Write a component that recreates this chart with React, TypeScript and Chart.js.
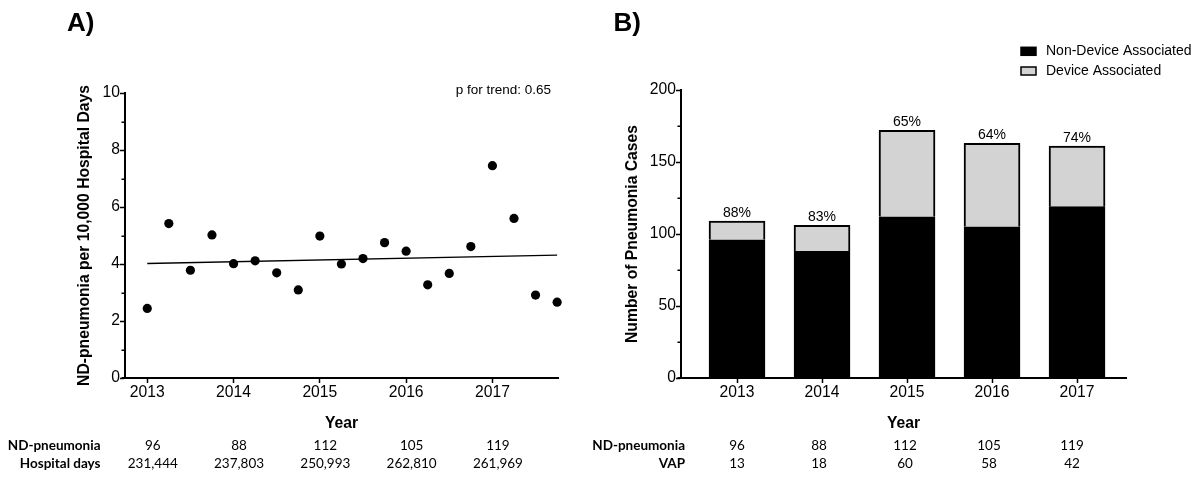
import React, { useEffect, useRef } from "react";
import { Chart, registerables } from "chart.js";

Chart.register(...registerables);

const FONT = "'Liberation Sans', Arial, Helvetica, sans-serif";
const TABLE_FONT = "Lato, 'Open Sans', sans-serif";

// ---------- Panel A data ----------
const quarters = [
  2013, 2013.25, 2013.5, 2013.75, 2014, 2014.25, 2014.5, 2014.75, 2015, 2015.25,
  2015.5, 2015.75, 2016, 2016.25, 2016.5, 2016.75, 2017, 2017.25, 2017.5, 2017.75,
];
const rates = [
  2.44, 5.42, 3.78, 5.02, 4.01, 4.11, 3.69, 3.09, 4.98, 4.0,
  4.19, 4.75, 4.45, 3.27, 3.67, 4.61, 7.45, 5.6, 2.91, 2.66,
];
const trendX = [2013, 2017.75];
const trendY = [4.02, 4.31];
const pTrendLabel = "p for trend: 0.65";
const years = [2013, 2014, 2015, 2016, 2017];
const rateTicks = [0, 1, 2, 3, 4, 5, 6, 7, 8, 9, 10];
const rateTickLabels = [0, 2, 4, 6, 8, 10];
const ndPneumonia = [96, 88, 112, 105, 119];
const hospitalDays = ["231,444", "237,803", "250,993", "262,810", "261,969"];

// ---------- Panel B data ----------
const nonDevice = [96, 88, 112, 105, 119];
const deviceAssoc = [13, 18, 60, 58, 42];
const vap = [13, 18, 60, 58, 42];
const pctNonDevice = ["88%", "83%", "65%", "64%", "74%"];
const caseTicks = [0, 25, 50, 75, 100, 125, 150, 175, 200];
const caseTickLabels = [0, 50, 100, 150, 200];

const tickFont = { family: FONT, size: 15.7 };
const titleFont = { family: FONT, size: 15.7, weight: "bold" as const };

function panelLabelPlugin(text: string, x: number, y: number) {
  return {
    id: "panelLabel",
    afterDraw(chart: any) {
      const ctx = chart.ctx;
      ctx.save();
      ctx.font = `bold 26px ${FONT}`;
      ctx.fillStyle = "#000";
      ctx.textAlign = "left";
      ctx.textBaseline = "alphabetic";
      ctx.fillText(text, x, y);
      ctx.restore();
    },
  };
}

function minorTicksPlugin(values: number[]) {
  return {
    id: "minorTicks",
    afterDraw(chart: any) {
      const s = chart.scales.y;
      const ctx = chart.ctx;
      const area = chart.chartArea;
      ctx.save();
      ctx.strokeStyle = "#000";
      ctx.lineWidth = 1.5;
      ctx.beginPath();
      values.forEach((v) => {
        const y = Math.round(s.getPixelForValue(v)) + 0.25;
        ctx.moveTo(s.right - 3.5, y);
        ctx.lineTo(s.right, y);
      });
      ctx.stroke();
      // small overhang of the x axis line to the left of the y axis
      ctx.lineWidth = 2;
      ctx.beginPath();
      ctx.moveTo(area.left - 3.5, area.bottom);
      ctx.lineTo(area.left, area.bottom);
      ctx.stroke();
      ctx.restore();
    },
  };
}

function tablePlugin(rows: { label: string; values: string[] }[], labelRight: number, rowY: number[], dx: number[]) {
  return {
    id: "tableBelow",
    afterDraw(chart: any) {
      const ctx = chart.ctx;
      const xs = chart.scales.x;
      ctx.save();
      ctx.fillStyle = "#000";
      ctx.textBaseline = "middle";
      rows.forEach((row, k) => {
        ctx.font = `bold 13.5px ${TABLE_FONT}`;
        ctx.textAlign = "right";
        ctx.fillText(row.label, labelRight, rowY[k]);
        ctx.font = `13.5px ${TABLE_FONT}`;
        ctx.textAlign = "center";
        row.values.forEach((v, i) => {
          ctx.fillText(v, xs.getPixelForValue(years[i]) + dx[i], rowY[k]);
        });
      });
      ctx.restore();
    },
  };
}

const pTrendPlugin = {
  id: "pTrend",
  afterDraw(chart: any) {
    const ctx = chart.ctx;
    ctx.save();
    ctx.font = `13.5px ${FONT}`;
    ctx.fillStyle = "#000";
    ctx.textAlign = "right";
    ctx.textBaseline = "alphabetic";
    ctx.fillText(pTrendLabel, chart.chartArea.right - 7, 94);
    ctx.restore();
  },
};

const pctLabelPlugin = {
  id: "pctLabels",
  afterDatasetsDraw(chart: any) {
    const ctx = chart.ctx;
    const xs = chart.scales.x;
    const ys = chart.scales.y;
    ctx.save();
    ctx.font = `14px ${FONT}`;
    ctx.fillStyle = "#000";
    ctx.textAlign = "center";
    ctx.textBaseline = "alphabetic";
    years.forEach((yr, i) => {
      const total = nonDevice[i] + deviceAssoc[i];
      ctx.fillText(pctNonDevice[i], xs.getPixelForValue(yr), ys.getPixelForValue(total) - 4.5);
    });
    ctx.restore();
  },
};

const legendPlugin = {
  id: "customLegend",
  afterDraw(chart: any) {
    const ctx = chart.ctx;
    const left = chart.chartArea.right - 105;
    ctx.save();
    ctx.font = `14px ${FONT}`;
    ctx.textAlign = "left";
    ctx.textBaseline = "middle";
    const rowsY = [51.3, 71];
    chart.data.datasets.forEach((ds: any, i: number) => {
      const y = rowsY[i];
      ctx.fillStyle = ds.backgroundColor;
      ctx.fillRect(left, y - 4, 15, 8);
      ctx.strokeStyle = "#000";
      ctx.lineWidth = 1.5;
      ctx.strokeRect(left, y - 4, 15, 8);
      ctx.fillStyle = "#000";
      ctx.fillText(ds.label, left + 25, y);
    });
    ctx.restore();
  },
};

function yAxis(min: number, max: number, ticksAll: number[], labeled: number[], title: string, titlePad: number, width: number) {
  return {
    type: "linear",
    min,
    max,
    afterBuildTicks: (s: any) => {
      s.ticks = ticksAll.map((v) => ({ value: v }));
    },
    afterFit: (s: any) => {
      s.width = width;
    },
    ticks: {
      font: tickFont,
      color: "#000",
      padding: 0,
      autoSkip: false,
      callback: (v: any) => (labeled.includes(v) ? String(v) : ""),
    },
    grid: {
      display: true,
      drawOnChartArea: false,
      drawTicks: true,
      tickLength: 5,
      tickWidth: 1.5,
      tickColor: (c: any) => (c.tick && labeled.includes(c.tick.value) ? "#000" : "rgba(0,0,0,0)"),
    },
    border: { display: true, color: "#000", width: 2 },
    title: {
      display: true,
      text: title,
      font: titleFont,
      color: "#000",
      padding: { top: titlePad, bottom: 0 },
    },
  };
}

function xAxis(min: number, max: number, extra: any = {}) {
  return {
    type: "linear",
    min,
    max,
    offset: false,
    ...extra,
    afterBuildTicks: (s: any) => {
      s.ticks = years.map((v) => ({ value: v }));
    },
    afterFit: (s: any) => {
      s.height = 60;
    },
    ticks: {
      font: tickFont,
      color: "#000",
      padding: 0,
      autoSkip: false,
      maxRotation: 0,
      callback: (v: any) => String(v),
    },
    grid: {
      display: true,
      offset: false,
      drawOnChartArea: false,
      drawTicks: true,
      tickLength: 5,
      tickWidth: 1.5,
      tickColor: "#000",
    },
    border: { display: true, color: "#000", width: 2 },
    title: {
      display: true,
      text: "Year",
      font: titleFont,
      color: "#000",
      padding: { top: 0, bottom: 4.6 },
    },
  };
}

export default function App() {
  const refA = useRef<HTMLCanvasElement>(null);
  const refB = useRef<HTMLCanvasElement>(null);

  useEffect(() => {
    const chartA = new Chart(refA.current as HTMLCanvasElement, {
      type: "scatter",
      data: {
        datasets: [
          {
            type: "scatter",
            label: "rate",
            data: quarters.map((x, i) => ({ x, y: rates[i] })),
            backgroundColor: "#000",
            borderColor: "#000",
            borderWidth: 0,
            pointRadius: 4.6,
            pointHoverRadius: 4.6,
            clip: false,
            order: 1,
          },
          {
            type: "line",
            label: "trend",
            data: trendX.map((x, i) => ({ x, y: trendY[i] })),
            borderColor: "#000",
            borderWidth: 1.4,
            pointRadius: 0,
            fill: false,
            showLine: true,
            tension: 0,
            order: 2,
          },
        ],
      } as any,
      options: {
        responsive: false,
        animation: false,
        events: [],
        layout: { padding: { left: 0, top: 93, right: 42, bottom: 41 } },
        plugins: { legend: { display: false }, tooltip: { enabled: false } },
        scales: {
          x: xAxis(2012.742, 2017.76),
          y: yAxis(0, 10, rateTicks, rateTickLabels, "ND-pneumonia per 10,000 Hospital Days", 75, 125),
        } as any,
      },
      plugins: [
        panelLabelPlugin("A)", 67, 31),
        minorTicksPlugin(rateTicks.filter((v) => !rateTickLabels.includes(v))),
        pTrendPlugin,
        tablePlugin(
          [
            { label: "ND-pneumonia", values: ndPneumonia.map(String) },
            { label: "Hospital days", values: hospitalDays },
          ],
          100.5,
          [446, 463.5],
          [5.5, 5.5, 5.5, 5.5, 5.5]
        ),
      ],
    } as any);

    const chartB = new Chart(refB.current as HTMLCanvasElement, {
      type: "bar",
      data: {
        datasets: [
          {
            label: "Non-Device Associated",
            data: years.map((x, i) => ({ x, y: nonDevice[i] })),
            backgroundColor: "#000",
            borderColor: "#000",
            borderWidth: 2,
            barThickness: 56,
          },
          {
            label: "Device Associated",
            data: years.map((x, i) => ({ x, y: deviceAssoc[i] })),
            backgroundColor: "#d3d3d3",
            borderColor: "#000",
            borderWidth: 2,
            barThickness: 56,
          },
        ],
      } as any,
      options: {
        responsive: false,
        animation: false,
        events: [],
        layout: { padding: { left: 40, top: 90, right: 76, bottom: 41 } },
        plugins: { legend: { display: false }, tooltip: { enabled: false } },
        scales: {
          x: xAxis(2012.341, 2017.576, { stacked: true }),
          y: { ...yAxis(0, 200, caseTicks, caseTickLabels, "Number of Pneumonia Cases", 23.4, 81), stacked: true },
        } as any,
      },
      plugins: [
        panelLabelPlugin("B)", 53.5, 31),
        minorTicksPlugin(caseTicks.filter((v) => !caseTickLabels.includes(v))),
        pctLabelPlugin,
        legendPlugin,
        tablePlugin(
          [
            { label: "ND-pneumonia", values: ndPneumonia.map(String) },
            { label: "VAP", values: vap.map(String) },
          ],
          125,
          [446, 463.5],
          [0, -3, -2, -3, -5]
        ),
      ],
    } as any);

    return () => {
      chartA.destroy();
      chartB.destroy();
    };
  }, []);

  return (
    <div
      style={{
        position: "absolute",
        left: 0,
        top: 0,
        width: 1202,
        height: 479,
        background: "#fff",
        overflow: "hidden",
      }}
    >
      <canvas ref={refA} width={600} height={479} style={{ position: "absolute", left: 0, top: 0, display: "block" }} />
      <canvas ref={refB} width={642} height={479} style={{ position: "absolute", left: 560, top: 0, display: "block" }} />
    </div>
  );
}
